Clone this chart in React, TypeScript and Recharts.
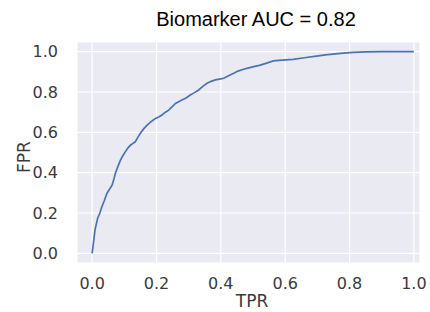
import React from "react";
import { LineChart, Line, XAxis, YAxis, CartesianGrid } from "recharts";

// curve (x = TPR axis, y = FPR axis)
const tprValues = [
  0, 0.004, 0.009, 0.017, 0.024, 0.03, 0.038, 0.046, 0.054, 0.062, 0.068, 0.072,
  0.08, 0.088, 0.096, 0.103, 0.111, 0.119, 0.127, 0.134, 0.142, 0.15, 0.16, 0.171,
  0.184, 0.197, 0.207, 0.217, 0.228, 0.238, 0.249, 0.259, 0.269, 0.279, 0.292,
  0.305, 0.318, 0.331, 0.344, 0.357, 0.37, 0.383, 0.396, 0.409, 0.424, 0.44, 0.455,
  0.471, 0.487, 0.502, 0.52, 0.54, 0.563, 0.59, 0.625, 0.66, 0.697, 0.725, 0.749,
  0.78, 0.811, 0.85, 0.904, 0.95, 1.0,
];
const fprValues = [
  0, 0.05, 0.116, 0.173, 0.2, 0.23, 0.262, 0.297, 0.318, 0.338, 0.37, 0.396,
  0.43, 0.462, 0.485, 0.503, 0.522, 0.536, 0.545, 0.553, 0.575, 0.595, 0.617, 0.636,
  0.654, 0.669, 0.676, 0.686, 0.7, 0.71, 0.727, 0.743, 0.752, 0.76, 0.77,
  0.785, 0.797, 0.81, 0.828, 0.843, 0.853, 0.86, 0.864, 0.868, 0.881, 0.893, 0.905,
  0.913, 0.92, 0.926, 0.932, 0.942, 0.954, 0.958, 0.962, 0.97, 0.978, 0.984, 0.988,
  0.993, 0.997, 0.999, 1.0, 1.0, 1.0,
];
const tickValues = [0, 0.2, 0.4, 0.6, 0.8, 1.0];

const data = tprValues.map((x, i) => ({ x, y: fprValues[i] }));

const tickStyle = {
  fontFamily: "'DejaVu Sans', sans-serif",
  fontSize: 16,
  fill: "#3a3a3a",
};

export default function App() {
  return (
    <div style={{ position: "absolute", left: 0, top: 0, width: 430, height: 312, background: "#fff" }}>
      <LineChart
        width={430}
        height={312}
        data={data}
        margin={{ top: 42, right: 10, bottom: 19, left: 17 }}
      >
        <CartesianGrid fill="#EAEAF2" stroke="#ffffff" strokeWidth={1.2} />
        <XAxis
          type="number"
          dataKey="x"
          domain={[-0.047, 1.019]}
          ticks={tickValues}
          interval={0}
          tickFormatter={(v) => v.toFixed(1)}
          tick={tickStyle}
          tickLine={false}
          axisLine={false}
          tickMargin={9}
          height={30}
          allowDataOverflow
        />
        <YAxis
          type="number"
          dataKey="y"
          domain={[-0.048, 1.048]}
          ticks={tickValues}
          interval={0}
          tickFormatter={(v) => v.toFixed(1)}
          tick={tickStyle}
          tickLine={false}
          axisLine={false}
          tickMargin={13}
          width={60}
          allowDataOverflow
        />
        <Line
          type="linear"
          dataKey="y"
          stroke="#4C72B0"
          strokeWidth={1.7}
          dot={false}
          isAnimationActive={false}
        />
        <text
          x={256}
          y={26}
          textAnchor="middle"
          style={{ fontFamily: "'Liberation Sans', Arial, sans-serif", fontSize: 20, fill: "#000" }}
        >
          Biomarker AUC = 0.82
        </text>
        <text
          x={252}
          y={307}
          textAnchor="middle"
          style={{ fontFamily: "'DejaVu Sans', sans-serif", fontSize: 17, fill: "#3a3a3a" }}
        >
          TPR
        </text>
        <text
          x={30}
          y={157}
          textAnchor="middle"
          transform="rotate(-90 30 157)"
          style={{ fontFamily: "'DejaVu Sans', sans-serif", fontSize: 17, fill: "#3a3a3a" }}
        >
          FPR
        </text>
      </LineChart>
    </div>
  );
}
